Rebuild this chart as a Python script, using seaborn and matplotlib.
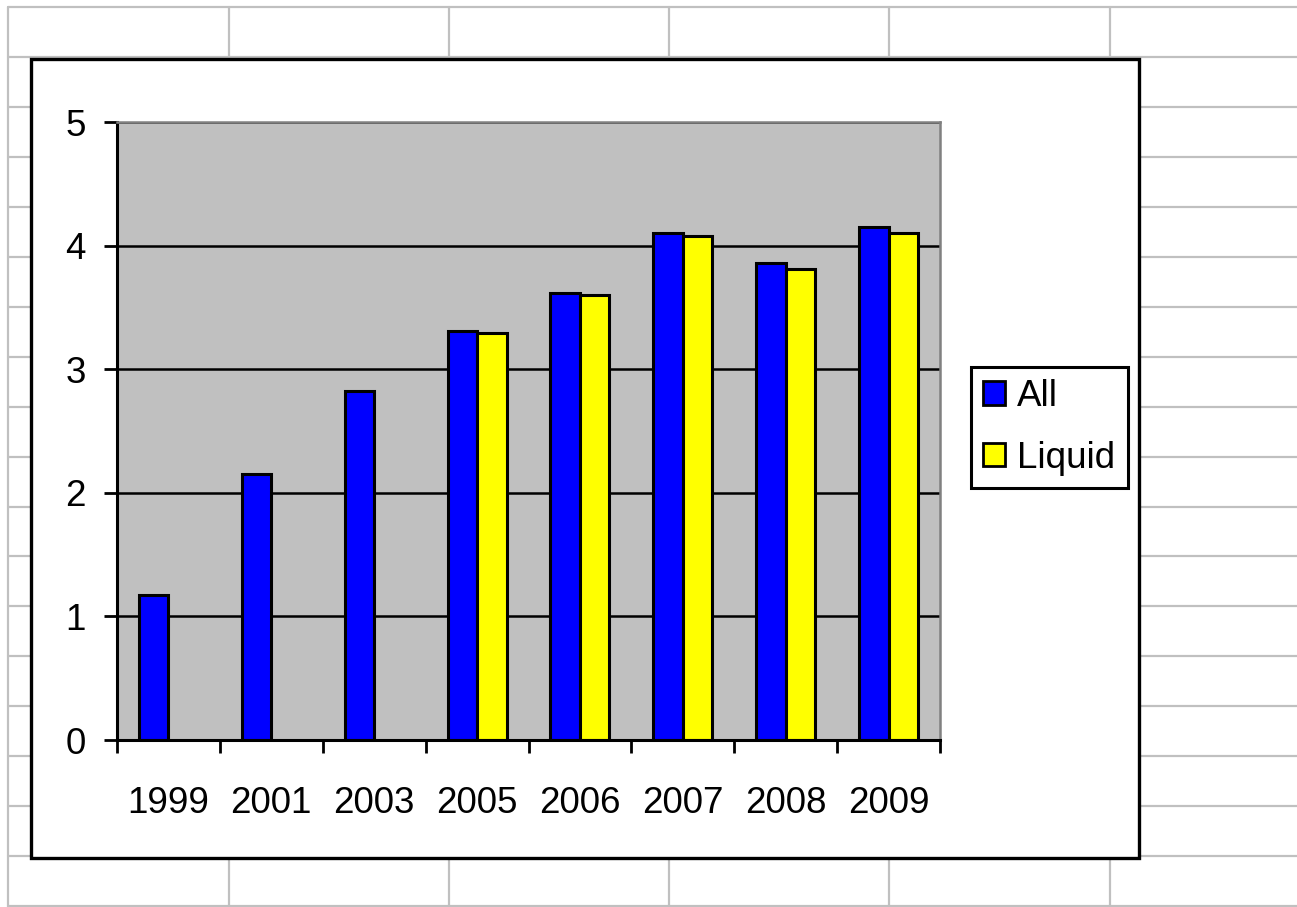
import matplotlib
matplotlib.use("Agg")
import matplotlib.pyplot as plt
from matplotlib.patches import Rectangle, Patch
from matplotlib.lines import Line2D
import numpy as np
import pandas as pd
import seaborn as sns

# ---- data ----
years = ["1999", "2001", "2003", "2005", "2006", "2007", "2008", "2009"]
all_values = [1.17, 2.15, 2.82, 3.31, 3.62, 4.10, 3.86, 4.15]
liquid_values = [np.nan, np.nan, np.nan, 3.29, 3.60, 4.08, 3.81, 4.10]
series_names = ["All", "Liquid"]
series_colors = {"All": "#0000FF", "Liquid": "#FFFF00"}
y_ticks = [0, 1, 2, 3, 4, 5]

df = pd.DataFrame({
    "year": years * 2,
    "value": all_values + liquid_values,
    "series": ["All"] * len(years) + ["Liquid"] * len(years),
})

sns.set_style("white")
plt.rcParams["font.family"] = ["Liberation Sans", "DejaVu Sans"]

W, H = 1297, 907
fig = plt.figure(figsize=(W / 100, H / 100), dpi=100)
fig.patch.set_facecolor("white")

# spreadsheet grid behind the chart
grid_kw = dict(color="#C0C0C0", lw=1.6, zorder=-3, transform=fig.transFigure)
for xp in [8, 229, 449, 669, 889, 1110]:
    fig.add_artist(Line2D([xp / W, xp / W], [0, 1 - 7 / H], **grid_kw))
for k in range(19):
    yp = 7 + 49.95 * k
    fig.add_artist(Line2D([8 / W, 1], [1 - yp / H, 1 - yp / H], **grid_kw))

# chart area box
fig.add_artist(Rectangle((31 / W, 1 - 858 / H), (1139 - 31) / W, (858 - 59) / H,
                         transform=fig.transFigure, facecolor="white",
                         edgecolor="black", lw=2.4, zorder=-1))

ax = fig.add_axes([117 / W, 1 - 740 / H, (940 - 117) / W, (740 - 122) / H])
ax.set_zorder(1)
ax.set_facecolor("#C0C0C0")

sns.barplot(data=df, x="year", y="value", hue="series", order=years,
            hue_order=series_names, palette=series_colors, edgecolor="black",
            linewidth=2.2, width=0.573, dodge=True, legend=False,
            errorbar=None, saturation=1, ax=ax)

ax.set_xlim(-0.5, len(years) - 0.5)
ax.set_ylim(0, 5)
ax.set_yticks(y_ticks)
ax.set_yticklabels([str(t) for t in y_ticks])
ax.set_xticks(range(len(years)))
ax.set_xticklabels(years)
ax.set_xticks(np.arange(-0.5, len(years), 1.0), minor=True)
ax.set_xlabel("")
ax.set_ylabel("")

ax.yaxis.grid(True, color="black", lw=1.8)
ax.xaxis.grid(False)
ax.set_axisbelow(True)

for s in ["left", "bottom"]:
    ax.spines[s].set_color("black")
    ax.spines[s].set_linewidth(2.2)
for s in ["top", "right"]:
    ax.spines[s].set_color("#808080")
    ax.spines[s].set_linewidth(1.8)

ax.tick_params(axis="x", which="major", length=0, pad=46 * 0.72,
               labelsize=26.5, colors="black")
ax.tick_params(axis="x", which="minor", length=13 * 0.72, width=2.0,
               direction="out", color="black", bottom=True)
ax.tick_params(axis="y", which="major", length=13 * 0.72, width=2.0,
               direction="out", pad=18 * 0.72, labelsize=26.5, colors="black",
               left=True)

handles = [Patch(facecolor=series_colors[n], edgecolor="black", lw=2.0)
           for n in series_names]
leg = ax.legend(handles, series_names, loc="upper left",
                bbox_to_anchor=(971 / W, 1 - 367 / H),
                bbox_transform=fig.transFigure, borderaxespad=0,
                fontsize=26.5, frameon=True, fancybox=False, shadow=False,
                handlelength=0.6, handleheight=0.6, handletextpad=0.33,
                labelspacing=0.72, borderpad=0.33)
leg.get_frame().set_edgecolor("black")
leg.get_frame().set_linewidth(2.2)
leg.get_frame().set_facecolor("white")
leg.get_frame().set_alpha(1)
for t in leg.get_texts():
    t.set_color("black")

fig.savefig("out.png", dpi=100)
